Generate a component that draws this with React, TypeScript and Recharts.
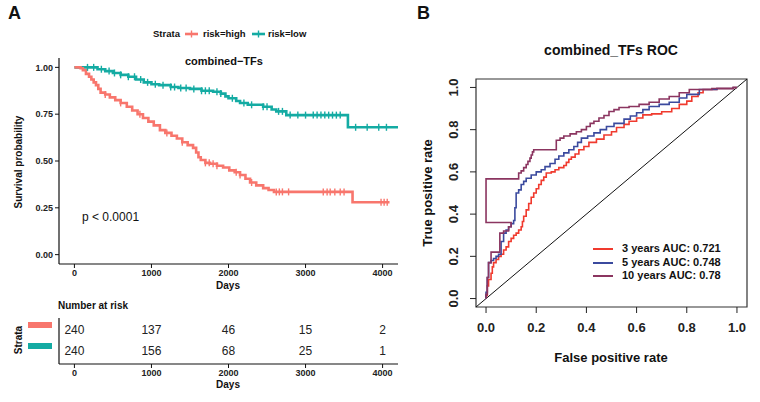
import React from 'react'
import { ComposedChart, ScatterChart, Line, Scatter, XAxis, YAxis, ReferenceArea, ReferenceLine } from 'recharts'

const FONT = '"Liberation Sans", Arial, sans-serif'
const RED = '#F8766D'
const TEAL = '#14ABA3'

// Kaplan-Meier steps
const highTimes = [0, 80, 110, 150, 190, 220, 250, 280, 310, 340, 400, 460, 530, 600, 680, 750, 820, 890, 960, 1030, 1110, 1180, 1260, 1330, 1400, 1470, 1540, 1580, 1610, 1640, 1700, 1760, 1850, 1930, 2010, 2080, 2150, 2220, 2280, 2360, 2450, 2520, 2590, 3610, 4090]
const highSurv = [1, 0.995, 0.985, 0.965, 0.95, 0.935, 0.92, 0.905, 0.885, 0.865, 0.855, 0.84, 0.825, 0.81, 0.79, 0.77, 0.75, 0.73, 0.71, 0.69, 0.665, 0.65, 0.635, 0.62, 0.6, 0.585, 0.57, 0.545, 0.52, 0.505, 0.49, 0.485, 0.475, 0.465, 0.45, 0.44, 0.425, 0.405, 0.385, 0.37, 0.355, 0.345, 0.335, 0.28, 0.28]
const lowTimes = [0, 300, 400, 500, 600, 700, 800, 900, 1000, 1100, 1250, 1350, 1500, 1650, 1800, 1900, 1960, 2000, 2100, 2150, 2250, 2450, 2560, 2620, 2750, 3550, 4200]
const lowSurv = [1, 0.99, 0.98, 0.97, 0.96, 0.95, 0.935, 0.92, 0.91, 0.905, 0.895, 0.89, 0.885, 0.875, 0.87, 0.86, 0.845, 0.835, 0.82, 0.81, 0.8, 0.79, 0.775, 0.765, 0.745, 0.68, 0.68]
const highCensor = [400, 600, 850, 1200, 1400, 1700, 1750, 1800, 1850, 2100, 2150, 2300, 2620, 2660, 2700, 2780, 3230, 3280, 3320, 3380, 3450, 3500, 3980, 4020, 4060]
const lowCensor = [170, 250, 350, 450, 520, 600, 700, 780, 860, 950, 1050, 1150, 1250, 1300, 1380, 1450, 1550, 1650, 1700, 1750, 1850, 1900, 2050, 2200, 2300, 2450, 2500, 2650, 2700, 2800, 2900, 3000, 3100, 3150, 3200, 3250, 3300, 3350, 3400, 3450, 3650, 3800, 3950, 4050]

const kmTicksX = [0, 1000, 2000, 3000, 4000]
const kmTicksY = [0, 0.25, 0.5, 0.75, 1]
const riskTimes = [0, 1000, 2000, 3000, 4000]
const riskHigh = [240, 137, 46, 15, 2]
const riskLow = [240, 156, 68, 25, 1]

// ROC curves
const roc3Fpr = [0, 0, 0.005, 0.01, 0.02, 0.025, 0.03, 0.04, 0.05, 0.06, 0.07, 0.08, 0.09, 0.1, 0.11, 0.12, 0.13, 0.14, 0.145, 0.15, 0.16, 0.17, 0.18, 0.19, 0.2, 0.21, 0.22, 0.23, 0.24, 0.26, 0.275, 0.29, 0.31, 0.32, 0.33, 0.34, 0.355, 0.37, 0.39, 0.41, 0.44, 0.47, 0.5, 0.52, 0.55, 0.57, 0.6, 0.625, 0.66, 0.7, 0.74, 0.77, 0.8, 0.82, 0.845, 0.865, 0.92, 0.985, 1]
const roc3Tpr = [0, 0.015, 0.06, 0.09, 0.12, 0.15, 0.17, 0.185, 0.2, 0.21, 0.23, 0.245, 0.27, 0.285, 0.3, 0.31, 0.325, 0.34, 0.365, 0.39, 0.42, 0.45, 0.48, 0.5, 0.52, 0.54, 0.56, 0.575, 0.595, 0.6, 0.61, 0.62, 0.63, 0.645, 0.66, 0.67, 0.685, 0.705, 0.72, 0.74, 0.755, 0.775, 0.79, 0.81, 0.825, 0.84, 0.855, 0.87, 0.875, 0.885, 0.9, 0.92, 0.935, 0.957, 0.975, 0.99, 0.995, 1, 1]
const roc5Fpr = [0, 0, 0.005, 0.01, 0.02, 0.03, 0.04, 0.05, 0.06, 0.07, 0.08, 0.09, 0.1, 0.11, 0.115, 0.12, 0.13, 0.14, 0.15, 0.16, 0.18, 0.2, 0.22, 0.235, 0.255, 0.275, 0.29, 0.31, 0.33, 0.35, 0.365, 0.38, 0.405, 0.43, 0.455, 0.48, 0.51, 0.55, 0.575, 0.6, 0.625, 0.65, 0.69, 0.73, 0.77, 0.8, 0.85, 0.92, 0.985, 1]
const roc5Tpr = [0, 0.03, 0.1, 0.17, 0.18, 0.19, 0.2, 0.21, 0.27, 0.31, 0.325, 0.34, 0.355, 0.37, 0.43, 0.5, 0.515, 0.54, 0.555, 0.57, 0.585, 0.6, 0.61, 0.625, 0.64, 0.66, 0.675, 0.69, 0.705, 0.72, 0.74, 0.76, 0.77, 0.785, 0.8, 0.815, 0.83, 0.85, 0.865, 0.88, 0.895, 0.91, 0.92, 0.93, 0.95, 0.967, 0.99, 0.995, 1, 1]
const roc10Fpr = [0, 0, 0.005, 0.01, 0.02, 0.02, 0.05, 0.055, 0.07, 0.09, 0.1, 0, 0, 0.127, 0.13, 0.14, 0.15, 0.16, 0.167, 0.175, 0.18, 0.185, 0.19, 0.28, 0.28, 0.295, 0.31, 0.335, 0.36, 0.38, 0.4, 0.415, 0.43, 0.45, 0.47, 0.49, 0.51, 0.53, 0.57, 0.61, 0.65, 0.69, 0.73, 0.77, 0.81, 0.9, 0.985, 1]
const roc10Tpr = [0, 0.02, 0.1, 0.17, 0.19, 0.22, 0.22, 0.31, 0.32, 0.34, 0.36, 0.36, 0.567, 0.567, 0.595, 0.605, 0.62, 0.635, 0.65, 0.665, 0.68, 0.695, 0.705, 0.705, 0.75, 0.76, 0.77, 0.78, 0.79, 0.8, 0.815, 0.83, 0.84, 0.855, 0.867, 0.886, 0.895, 0.905, 0.91, 0.92, 0.93, 0.945, 0.957, 0.975, 0.99, 0.995, 1, 1]
const rocTicks = [0, 0.2, 0.4, 0.6, 0.8, 1]
const rocNames = ['3 years AUC: 0.721', '5 years AUC: 0.748', '10 years AUC: 0.78']
const rocColors = ['#F03A2E', '#3B4A9E', '#8B3560']

const toSteps = (t: number[], s: number[]) => t.map((v, i) => ({ t: v, s: s[i] }))
const survAt = (t: number[], s: number[], x: number) => {
  let v = s[0]
  for (let i = 0; i < t.length; i++) if (t[i] <= x) v = s[i]
  return v
}
const toCensor = (c: number[], t: number[], s: number[]) => c.map(x => ({ t: x, s: survAt(t, s, x) }))
const toRoc = (f: number[], p: number[]) => f.map((v, i) => ({ fpr: v, tpr: p[i] }))

const tickFont = { fontFamily: FONT, fontSize: 9, fontWeight: 700, fill: '#222' }

function CensorMark(color: string) {
  return (props: any) => (
    <line x1={props.cx} x2={props.cx} y1={props.cy - 3.5} y2={props.cy + 3.5} stroke={color} strokeWidth={1.4} />
  )
}

function RiskText(props: any) {
  return (
    <text x={props.cx} y={props.cy} dy="0.36em" textAnchor="middle" fontFamily={FONT} fontSize={12} fill="#222">
      {props.payload.n}
    </text>
  )
}

function RocYTick(props: any) {
  const { x, y, payload } = props
  const px = x - 10
  return (
    <text x={px} y={y} transform={`rotate(-90 ${px} ${y})`} textAnchor="middle" fontFamily={FONT} fontSize={13} fontWeight={700} fill="#222">
      {payload.value.toFixed(1)}
    </text>
  )
}

const abs = (left: number, top: number, extra: React.CSSProperties = {}): React.CSSProperties => ({
  position: 'absolute', left, top, fontFamily: FONT, fontWeight: 700, color: '#111', whiteSpace: 'nowrap', ...extra,
})

export default function App() {
  const high = toSteps(highTimes, highSurv)
  const low = toSteps(lowTimes, lowSurv)
  const highC = toCensor(highCensor, highTimes, highSurv)
  const lowC = toCensor(lowCensor, lowTimes, lowSurv)
  const riskH = riskTimes.map((t, i) => ({ t, row: 1, n: riskHigh[i] }))
  const riskL = riskTimes.map((t, i) => ({ t, row: 0, n: riskLow[i] }))
  const rocs = [toRoc(roc3Fpr, roc3Tpr), toRoc(roc5Fpr, roc5Tpr), toRoc(roc10Fpr, roc10Tpr)]

  return (
    <div style={{ position: 'fixed', left: 0, top: 0, width: 760, height: 402, background: '#fff', overflow: 'hidden' }}>
      <div style={abs(8, 3, { fontSize: 18 })}>A</div>
      <div style={abs(417, 3, { fontSize: 18 })}>B</div>

      {/* legend A */}
      <div style={abs(153, 28, { fontSize: 9.5 })}>Strata</div>
      <svg style={{ position: 'absolute', left: 184, top: 28 }} width={16} height={12}>
        <line x1={1} x2={14} y1={6} y2={6} stroke={RED} strokeWidth={2.6} />
        <line x1={7.5} x2={7.5} y1={2.5} y2={9.5} stroke={RED} strokeWidth={1.4} />
      </svg>
      <div style={abs(203, 28, { fontSize: 9.5 })}>risk=high</div>
      <svg style={{ position: 'absolute', left: 251, top: 28 }} width={16} height={12}>
        <line x1={1} x2={14} y1={6} y2={6} stroke={TEAL} strokeWidth={2.6} />
        <line x1={7.5} x2={7.5} y1={2.5} y2={9.5} stroke={TEAL} strokeWidth={1.4} />
      </svg>
      <div style={abs(268, 28, { fontSize: 9.5 })}>risk=low</div>
      <div style={abs(185, 55, { fontSize: 11 })}>combined−TFs</div>

      <div style={abs(18, 162, { fontSize: 10, transform: 'translate(-50%, -50%) rotate(-90deg)' })}>Survival probability</div>
      <div style={abs(228, 285, { fontSize: 10, transform: 'translate(-50%, -50%)' })}>Days</div>
      <div style={abs(82, 210, { fontSize: 12, fontWeight: 400 })}>p &lt; 0.0001</div>

      <div style={{ position: 'absolute', left: 0, top: 0 }}>
        <ComposedChart width={410} height={300} margin={{ top: 58, right: 12, bottom: 6, left: 0 }}>
          <XAxis dataKey="t" type="number" domain={[-200, 4200]} ticks={kmTicksX} allowDataOverflow
            tick={tickFont} tickSize={4} height={30} axisLine={{ stroke: '#111', strokeWidth: 1.2 }} tickLine={{ stroke: '#111' }} />
          <YAxis dataKey="s" type="number" domain={[-0.05, 1.05]} ticks={kmTicksY} allowDataOverflow
            tickFormatter={(v: number) => v.toFixed(2)} tick={tickFont} tickSize={4} width={59}
            axisLine={{ stroke: '#111', strokeWidth: 1.2 }} tickLine={{ stroke: '#111' }} />
          <Line data={low} dataKey="s" type="stepAfter" stroke={TEAL} strokeWidth={2.6} dot={false} isAnimationActive={false} />
          <Line data={high} dataKey="s" type="stepAfter" stroke={RED} strokeWidth={2.6} dot={false} isAnimationActive={false} />
          <Scatter data={lowC} dataKey="s" shape={CensorMark(TEAL)} isAnimationActive={false} />
          <Scatter data={highC} dataKey="s" shape={CensorMark(RED)} isAnimationActive={false} />
        </ComposedChart>
      </div>

      {/* risk table */}
      <div style={abs(58, 300, { fontSize: 10 })}>Number at risk</div>
      <div style={abs(18, 340, { fontSize: 10, transform: 'translate(-50%, -50%) rotate(-90deg)' })}>Strata</div>
      <div style={{ position: 'absolute', left: 28, top: 322, width: 24, height: 6, background: RED }} />
      <div style={{ position: 'absolute', left: 28, top: 343, width: 24, height: 6, background: TEAL }} />
      <div style={abs(228, 384, { fontSize: 10, transform: 'translate(-50%, -50%)' })}>Days</div>
      <div style={{ position: 'absolute', left: 0, top: 300 }}>
        <ScatterChart width={410} height={102} margin={{ top: 18, right: 12, bottom: 14, left: 0 }}>
          <XAxis dataKey="t" type="number" domain={[-200, 4200]} ticks={kmTicksX} allowDataOverflow
            tick={tickFont} tickSize={4} height={24} axisLine={{ stroke: '#111', strokeWidth: 1.2 }} tickLine={{ stroke: '#111' }} />
          <YAxis dataKey="row" type="number" domain={[-0.62, 1.57]} allowDataOverflow tick={false} tickLine={false}
            width={59} axisLine={{ stroke: '#111', strokeWidth: 1.2 }} />
          <Scatter data={riskH} shape={RiskText} isAnimationActive={false} />
          <Scatter data={riskL} shape={RiskText} isAnimationActive={false} />
        </ScatterChart>
      </div>

      {/* panel B */}
      <div style={abs(611, 50, { fontSize: 14, transform: 'translate(-50%, -50%)' })}>combined_TFs ROC</div>
      <div style={abs(427, 193, { fontSize: 13, transform: 'translate(-50%, -50%) rotate(-90deg)' })}>True positive rate</div>
      <div style={abs(611, 357, { fontSize: 13, transform: 'translate(-50%, -50%)' })}>False positive rate</div>
      <div style={{ position: 'absolute', left: 390, top: 0 }}>
        <ComposedChart width={370} height={402} margin={{ top: 79, right: 13, bottom: 65, left: 0 }}>
          <XAxis dataKey="fpr" type="number" domain={[-0.04, 1.04]} ticks={rocTicks} allowDataOverflow
            tickFormatter={(v: number) => v.toFixed(1)} tick={{ ...tickFont, fontSize: 13 }} tickSize={6} tickMargin={10}
            height={30} axisLine={false} tickLine={{ stroke: '#222' }} />
          <YAxis dataKey="tpr" type="number" domain={[-0.04, 1.04]} ticks={rocTicks} allowDataOverflow
            tick={RocYTick} tickSize={6} width={86} axisLine={false} tickLine={{ stroke: '#222' }} />
          <ReferenceArea x1={-0.04} x2={1.04} y1={-0.04} y2={1.04} fill="none" stroke="#333" strokeWidth={1.2} ifOverflow="visible" />
          <ReferenceLine segment={[{ x: -0.04, y: -0.04 }, { x: 1.04, y: 1.04 }]} stroke="#111" strokeWidth={1} />
          {rocs.map((d, i) => (
            <Line key={i} data={d} dataKey="tpr" type="stepAfter" stroke={rocColors[i]} strokeWidth={1.6} dot={false} isAnimationActive={false} />
          ))}
        </ComposedChart>
      </div>

      {rocNames.map((n, i) => (
        <React.Fragment key={n}>
          <div style={{ position: 'absolute', left: 593, top: 248 + i * 13.5, width: 20, height: 2, background: rocColors[i] }} />
          <div style={abs(622, 242 + i * 13.5, { fontSize: 11 })}>{n}</div>
        </React.Fragment>
      ))}
    </div>
  )
}
